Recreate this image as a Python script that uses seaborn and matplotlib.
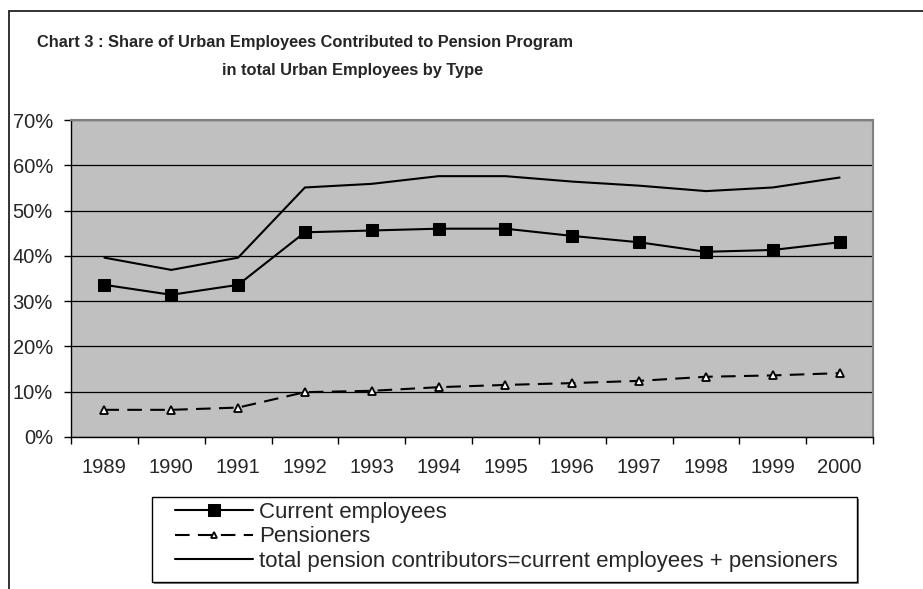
import matplotlib
matplotlib.use("Agg")
import matplotlib.pyplot as plt
import seaborn as sns
from matplotlib.lines import Line2D
from matplotlib.patches import Rectangle
from matplotlib.ticker import FixedLocator, PercentFormatter

# Data (% of total urban employees)
years = ["1989", "1990", "1991", "1992", "1993", "1994",
         "1995", "1996", "1997", "1998", "1999", "2000"]
current = [33.6, 31.4, 33.6, 45.2, 45.6, 46.0, 46.0, 44.4, 43.0, 40.9, 41.3, 43.0]
pensioners = [6.0, 6.0, 6.5, 9.9, 10.2, 11.0, 11.5, 11.9, 12.4, 13.3, 13.6, 14.1]
total = [39.6, 36.9, 39.6, 55.1, 55.9, 57.6, 57.6, 56.4, 55.5, 54.3, 55.1, 57.3]
yticks = [0, 10, 20, 30, 40, 50, 60, 70]

sns.set_style("white")
plt.rcParams["font.family"] = ["Liberation Sans", "DejaVu Sans"]

W, H = 923, 589
fig = plt.figure(figsize=(W / 100, H / 100), dpi=100)
ax = fig.add_axes([71 / W, 1 - 437 / H, (873 - 71) / W, (437 - 120) / H])
ax.set_facecolor("#c0c0c0")

x = list(range(len(years)))
sns.lineplot(x=x, y=current, ax=ax, color="black", lw=1.5, marker="s",
             markersize=9, markeredgecolor="black", label="Current employees")
sns.lineplot(x=x, y=pensioners, ax=ax, color="black", lw=1.5, ls=(0, (7, 4)),
             marker="^", markersize=6, markerfacecolor="white",
             markeredgecolor="black", markeredgewidth=1.3, label="Pensioners")
sns.lineplot(x=x, y=total, ax=ax, color="black", lw=1.5,
             label="total pension contributors=current employees + pensioners")

ax.set_xlim(-0.5, len(years) - 0.5)
ax.set_ylim(0, 70)
ax.yaxis.set_major_locator(FixedLocator(yticks))
ax.yaxis.set_major_formatter(PercentFormatter(decimals=0))
ax.grid(axis="y", color="black", lw=0.9)
ax.set_axisbelow(True)

# category labels centred, tick marks between categories
ax.set_xticks(x)
ax.set_xticklabels(years)
ax.set_xticks([i - 0.5 for i in range(len(years) + 1)], minor=True)
ax.tick_params(axis="x", which="major", length=0, pad=15, labelsize=14.5)
ax.tick_params(axis="x", which="minor", length=5, width=1, color="black",
               direction="out", bottom=True)
ax.tick_params(axis="y", length=5, width=1, color="black", direction="out",
               left=True, pad=8, labelsize=14.5)
ax.set_xlabel("")
ax.set_ylabel("")

for side in ["top", "right"]:
    ax.spines[side].set_color("#808080")
    ax.spines[side].set_linewidth(1.5)
for side in ["left", "bottom"]:
    ax.spines[side].set_color("black")
    ax.spines[side].set_linewidth(1)

# title
fig.text(37 / W, 1 - 43 / H,
         "Chart 3 : Share of Urban Employees Contributed to Pension Program",
         fontsize=11.8, fontweight="bold", ha="left", va="center")
fig.text(222 / W, 1 - 71 / H, "in total Urban Employees by Type",
         fontsize=11.8, fontweight="bold", ha="left", va="center")

# outer chart frame
fig.add_artist(Line2D([9 / W, 9 / W], [0, 1 - 11 / H], color="#222222", lw=1.3))
fig.add_artist(Line2D([9 / W, 1], [1 - 11 / H, 1 - 11 / H], color="#222222", lw=1.3))

# legend box with shadow
fig.add_artist(Rectangle((154 / W, 1 - 584 / H), (857 - 152) / W, (582 - 497) / H,
                         transform=fig.transFigure, facecolor="#808080",
                         edgecolor="none", zorder=1))
fig.add_artist(Rectangle((152 / W, 1 - 582 / H), (857 - 152) / W, (582 - 497) / H,
                         transform=fig.transFigure, facecolor="white",
                         edgecolor="black", lw=1, zorder=2))
handles, labels = ax.get_legend_handles_labels()
ax.get_legend().remove()
leg = fig.legend(handles, labels, loc="upper left",
                 bbox_to_anchor=(175 / W, 1 - 502 / H), frameon=False,
                 fontsize=16, handlelength=3.5, handletextpad=0.3,
                 labelspacing=0.15, borderpad=0, borderaxespad=0)
leg.set_zorder(5)
for h in leg.legend_handles:
    if h.get_marker() == "s":
        h.set_markersize(8)
    elif h.get_marker() == "^":
        h.set_markersize(5)

fig.savefig("out.png", dpi=100)
